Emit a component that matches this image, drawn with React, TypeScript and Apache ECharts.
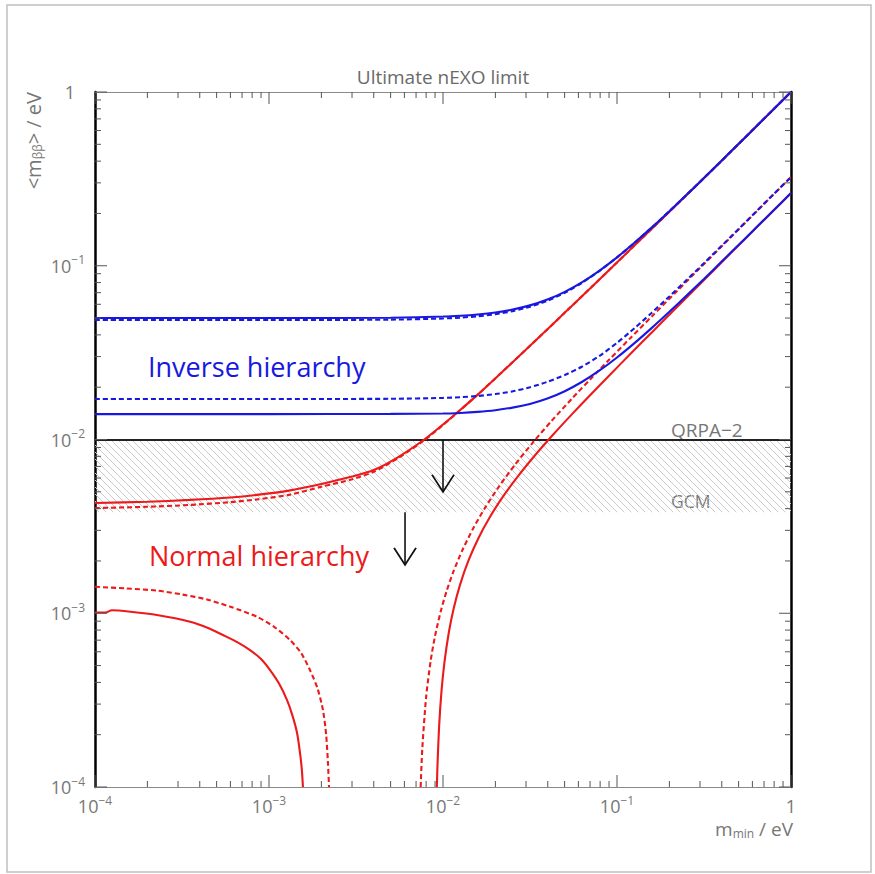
import React, { useEffect, useRef } from 'react';
import * as echarts from 'echarts';

// ---- axis range and tick labels (exponents of 10) ----
const axisMin = 1e-4;
const axisMax = 1;
const tickExponents = [-4, -3, -2, -1, 0];

// ---- Inverse hierarchy (blue) ----
const ihX = [1e-4, 0.001, 0.005, 0.01, 0.0126, 0.0158, 0.02, 0.0251, 0.0316, 0.0398, 0.0501, 0.0631, 0.0794, 0.1, 0.126, 0.158, 0.2, 0.251, 0.316, 0.398, 0.501, 0.631, 0.794, 1];
const ihMaxSolidY = [0.05, 0.05, 0.05025, 0.05099, 0.05156, 0.05244, 0.05385, 0.05595, 0.05915, 0.06391, 0.07078, 0.08051, 0.09383, 0.1118, 0.1356, 0.1657, 0.2062, 0.2559, 0.3199, 0.4011, 0.5035, 0.633, 0.7956, 1.0];
const ihMaxDashedY = [0.0487, 0.0487, 0.04896, 0.04972, 0.0503, 0.0512, 0.05265, 0.05479, 0.05805, 0.0629, 0.06987, 0.0799, 0.0935, 0.1117, 0.1356, 0.1657, 0.2062, 0.2559, 0.3199, 0.4011, 0.5035, 0.633, 0.7956, 1.0];
const ihMinSolidY = [0.014, 0.014, 0.01404, 0.0141, 0.01422, 0.01442, 0.01475, 0.01526, 0.01603, 0.01722, 0.01897, 0.02149, 0.02496, 0.02963, 0.03585, 0.04375, 0.05433, 0.06731, 0.08398, 0.1053, 0.1319, 0.1658, 0.2084, 0.262];
const ihMinDashedY = [0.0171, 0.0171, 0.01715, 0.01735, 0.01752, 0.0178, 0.01826, 0.01893, 0.01998, 0.02148, 0.0235, 0.0263, 0.0303, 0.036, 0.0437, 0.0535, 0.0666, 0.0827, 0.1035, 0.1298, 0.1632, 0.2052, 0.258, 0.324];

// ---- Normal hierarchy (red) ----
const nhMaxX = [1e-4, 2e-4, 3.5e-4, 6e-4, 8.5e-4, 0.0013, 0.002, 0.003, 0.004, 0.0055, 0.0077, 0.01, 0.012, 0.016, 0.024, 0.035, 0.05, 0.07, 0.1, 0.141, 0.2, 0.39, 1];
const nhMaxSolidY = [0.00431, 0.00438, 0.00449, 0.00464, 0.0048, 0.00508, 0.00555, 0.00612, 0.00667, 0.0079, 0.0099, 0.0122, 0.0142, 0.0183, 0.0267, 0.0381, 0.0536, 0.074, 0.1045, 0.1458, 0.2045, 0.393, 1.0];
const nhMaxDashedY = [0.00403, 0.0041, 0.0042, 0.00436, 0.00452, 0.0048, 0.00535, 0.0059, 0.00652, 0.0078, 0.0098, 0.0121, 0.0142, 0.0183, 0.0267, 0.0381, 0.0536, 0.074, 0.1045, 0.1458, 0.2045, 0.393, 1.0];

const nhMinLeftSolidX = [1e-4, 1.15e-4, 1.25e-4, 1.6e-4, 2.27e-4, 3.52e-4, 4.5e-4, 5.44e-4, 6.6e-4, 7.78e-4, 9e-4, 1.014e-3, 1.14e-3, 1.268e-3, 1.36e-3, 1.449e-3, 1.51e-3, 1.545e-3, 1.567e-3];
const nhMinLeftSolidY = [0.00101, 0.00101, 0.00104, 0.00102, 0.000977, 0.000894, 0.00082, 0.000749, 0.00068, 0.000614, 0.000545, 0.000471, 0.000395, 0.000317, 0.00026, 0.000205, 0.000155, 0.000125, 0.0001];
const nhMinLeftDashedX = [1e-4, 1.5e-4, 2.27e-4, 3.2e-4, 4.4e-4, 6e-4, 8.53e-4, 1.08e-3, 1.321e-3, 1.53e-3, 1.72e-3, 1.9e-3, 2.043e-3, 2.13e-3, 2.18e-3, 2.213e-3];
const nhMinLeftDashedY = [0.00142, 0.00139, 0.00135, 0.00128, 0.0012, 0.00109, 0.000955, 0.00083, 0.000701, 0.00059, 0.000471, 0.00037, 0.000277, 0.0002, 0.00014, 0.0001];

const nhMinRightDashedX = [0.00744, 0.0076, 0.008, 0.0085, 0.009, 0.0097, 0.0105, 0.0115, 0.013, 0.015, 0.0175, 0.021, 0.026, 0.033, 0.042, 0.055, 0.07, 0.09, 0.12, 0.16, 0.22, 0.3, 0.45, 0.65, 1];
const nhMinRightDashedY = [0.0001, 0.000165, 0.00033, 0.000536, 0.00074, 0.001024, 0.001346, 0.001745, 0.002337, 0.003113, 0.004066, 0.00537, 0.007187, 0.009661, 0.012765, 0.017157, 0.02215, 0.028743, 0.038565, 0.051603, 0.071107, 0.097073, 0.145715, 0.210541, 0.324];
const nhMinRightSolidX = [0.00922, 0.0093, 0.0095, 0.0098, 0.0102, 0.0108, 0.0115, 0.0125, 0.014, 0.016, 0.0185, 0.022, 0.027, 0.034, 0.043, 0.055, 0.07, 0.09, 0.12, 0.16, 0.22, 0.3, 0.45, 0.65, 1];
const nhMinRightSolidY = [0.0001, 0.000135, 0.000224, 0.000355, 0.000525, 0.000775, 0.001058, 0.001448, 0.002006, 0.002712, 0.003546, 0.004655, 0.006159, 0.008175, 0.010683, 0.013952, 0.01798, 0.023299, 0.031229, 0.041762, 0.057525, 0.078516, 0.117844, 0.170261, 0.262];

// ---- limits band & arrows ----
const qrpaLimit = 0.01;
const gcmLimit = 0.00381;
const arrowQrpaX = 0.01;
const arrowQrpaY = [0.01, 0.005];
const arrowGcmX = 0.00605;
const arrowGcmY = [0.00381, 0.0019];

const FONT = '"Open Sans", Lato, sans-serif';
const BLUE = '#1818e0';
const RED = '#ec1a1a';
const GRAY = '#777777';

const zip = (xs: number[], ys: number[]) => xs.map((x, i) => [x, ys[i]]);

const majorVals = tickExponents.map((e) => Math.pow(10, e));
const minorVals: number[] = [];
tickExponents.slice(0, -1).forEach((e) => {
  for (let k = 2; k <= 9; k++) minorVals.push(Number((k * Math.pow(10, e)).toPrecision(3)));
});
const tickData = [...majorVals.map((v) => [v, 1]), ...minorVals.map((v) => [v, 0])];

const labelRich = {
  b: { fontSize: 18, lineHeight: 18, color: GRAY, fontFamily: FONT, verticalAlign: 'bottom' },
  s: { fontSize: 12, lineHeight: 12, color: GRAY, fontFamily: FONT, padding: [0, 0, 9, 0], verticalAlign: 'bottom' },
  one: { fontSize: 18, lineHeight: 18, color: GRAY, fontFamily: FONT, verticalAlign: 'bottom' },
  oneY: { fontSize: 18, lineHeight: 18, color: GRAY, fontFamily: FONT, padding: [0, 10, 0, 0], verticalAlign: 'bottom' },
};

const fmt = (isY: boolean) => (v: number) => {
  const e = Math.round(Math.log10(v));
  if (e === 0) return isY ? '{oneY|1}' : '{one|1}';
  return `{b|10}{s|\u2212${-e}}`;
};

function axis(kind: 'x' | 'y', pos: string, label: boolean, lineColor: string, lineWidth: number) {
  return {
    type: 'log',
    logBase: 10,
    min: axisMin,
    max: axisMax,
    position: pos,
    gridIndex: 0,
    axisLine: { show: true, onZero: false, lineStyle: { color: lineColor, width: lineWidth } },
    axisTick: { show: false },
    axisLabel: label
      ? { show: true, margin: 10, customValues: majorVals, formatter: fmt(kind === 'y'), rich: labelRich }
      : { show: false },
    splitLine: { show: false },
    minorTick: { show: false },
    minorSplitLine: { show: false },
  };
}

function tickSeries(kind: 'x' | 'y') {
  return {
    type: 'custom',
    xAxisIndex: 0,
    yAxisIndex: 0,
    silent: true,
    clip: false,
    z: 6,
    data: tickData,
    encode: kind === 'x' ? { x: 0 } : { y: 0 },
    renderItem: (params: any, api: any) => {
      const v = api.value(0);
      const len = api.value(1) ? 12 : 6;
      const style = { stroke: '#555', lineWidth: 1 };
      if (kind === 'x') {
        const a = api.coord([v, axisMin]);
        const b = api.coord([v, axisMax]);
        return {
          type: 'group',
          children: [
            { type: 'line', shape: { x1: a[0], y1: a[1], x2: a[0], y2: a[1] - len }, style },
            { type: 'line', shape: { x1: b[0], y1: b[1], x2: b[0], y2: b[1] + len }, style },
          ],
        };
      }
      const a = api.coord([axisMin, v]);
      const b = api.coord([axisMax, v]);
      return {
        type: 'group',
        children: [
          { type: 'line', shape: { x1: a[0], y1: a[1], x2: a[0] + len, y2: a[1] }, style },
          { type: 'line', shape: { x1: b[0], y1: b[1], x2: b[0] - len, y2: b[1] }, style },
        ],
      };
    },
  };
}

function lineSeries(name: string, data: number[][], color: string, dashed: boolean, extra: any = {}) {
  return {
    name,
    type: 'line',
    data,
    xAxisIndex: 0,
    yAxisIndex: 0,
    symbol: 'none',
    showSymbol: false,
    smooth: 0.25,
    clip: true,
    z: 3,
    lineStyle: { color, width: 2.1, type: dashed ? [5, 3] : 'solid' },
    itemStyle: { color },
    ...extra,
  };
}

function arrowSeries(name: string, x: number, ys: number[]) {
  return {
    name,
    type: 'line',
    xAxisIndex: 0,
    yAxisIndex: 0,
    symbol: 'none',
    showSymbol: true,
    z: 4,
    lineStyle: { color: '#111', width: 1.6 },
    itemStyle: { color: '#111' },
    data: [
      { value: [x, ys[0]], symbol: 'none' },
      {
        value: [x, ys[1]],
        symbol: 'path://M0,0L10,16L20,0',
        symbolSize: [22, 17],
        symbolOffset: [0, -8.5],
        itemStyle: { color: 'rgba(0,0,0,0)', borderColor: '#111', borderWidth: 1.6 },
      },
    ],
  };
}

export default function App() {
  const ref = useRef<HTMLDivElement>(null);
  useEffect(() => {
    document.body.style.margin = '0';
    const el = ref.current!;
    const chart = echarts.init(el, null, { renderer: 'svg' });

    const hatch = document.createElement('canvas');
    hatch.width = 7;
    hatch.height = 7;
    const ctx = hatch.getContext('2d')!;
    ctx.strokeStyle = '#cacaca';
    ctx.lineWidth = 1;
    ctx.beginPath();
    ctx.moveTo(-1, -1);
    ctx.lineTo(8, 8);
    ctx.moveTo(-1, 6);
    ctx.lineTo(1, 8);
    ctx.moveTo(6, -1);
    ctx.lineTo(8, 1);
    ctx.stroke();

    const subRich = { sub: { fontSize: 12, fontFamily: FONT, fill: GRAY, padding: [9, 0, 0, 0], verticalAlign: 'top' } };

    const option: any = {
      animation: false,
      backgroundColor: '#ffffff',
      grid: { left: 95, top: 92, width: 696, height: 695, containLabel: false },
      xAxis: [axis('x', 'bottom', true, '#8a8a8a', 1), axis('x', 'top', false, '#8a8a8a', 1)],
      yAxis: [axis('y', 'left', true, '#000', 2.5), axis('y', 'right', false, '#000', 2.5)],
      series: [
        lineSeries('NH max', zip(nhMaxX, nhMaxSolidY), RED, false, {
          markArea: {
            silent: true,
            z: 1,
            itemStyle: { color: { image: hatch, repeat: 'repeat' } },
            data: [[{ yAxis: qrpaLimit }, { yAxis: gcmLimit }]],
          },
          markLine: {
            silent: true,
            symbol: 'none',
            z: 2,
            label: { show: false },
            lineStyle: { color: '#222', width: 2, type: 'solid' },
            data: [{ yAxis: qrpaLimit }, { yAxis: gcmLimit }],
          },
        }),
        lineSeries('NH max dashed', zip(nhMaxX, nhMaxDashedY), RED, true),
        lineSeries('NH min left', zip(nhMinLeftSolidX, nhMinLeftSolidY), RED, false),
        lineSeries('NH min left dashed', zip(nhMinLeftDashedX, nhMinLeftDashedY), RED, true),
        lineSeries('NH min right dashed', zip(nhMinRightDashedX, nhMinRightDashedY), RED, true),
        lineSeries('NH min right', zip(nhMinRightSolidX, nhMinRightSolidY), RED, false),
        lineSeries('IH max', zip(ihX, ihMaxSolidY), BLUE, false),
        lineSeries('IH max dashed', zip(ihX, ihMaxDashedY), BLUE, true),
        lineSeries('IH min', zip(ihX, ihMinSolidY), BLUE, false),
        lineSeries('IH min dashed', zip(ihX, ihMinDashedY), BLUE, true),
        arrowSeries('QRPA arrow', arrowQrpaX, arrowQrpaY),
        arrowSeries('GCM arrow', arrowGcmX, arrowGcmY),
        tickSeries('x'),
        tickSeries('y'),
      ],
      graphic: [
        {
          type: 'rect',
          shape: { x: 7, y: 5, width: 864, height: 867 },
          style: { fill: 'none', stroke: '#c0c0c0', lineWidth: 1.5 },
          silent: true,
          z: -1,
        },
        {
          type: 'text',
          x: 443,
          y: 77,
          style: { text: 'Ultimate nEXO limit', fontSize: 19, fontFamily: FONT, fill: '#6a6a6a', align: 'center', verticalAlign: 'middle' },
        },
        {
          type: 'text',
          x: 33,
          y: 92,
          rotation: Math.PI / 2,
          style: {
            text: '<m{sub|\u03b2\u03b2}> / eV',
            fontSize: 20,
            fontFamily: FONT,
            fill: GRAY,
            align: 'right',
            verticalAlign: 'middle',
            rich: subRich,
          },
        },
        {
          type: 'text',
          x: 793,
          y: 829,
          style: {
            text: 'm{sub|min} / eV',
            fontSize: 19,
            fontFamily: FONT,
            fill: GRAY,
            align: 'right',
            verticalAlign: 'middle',
            rich: subRich,
          },
        },
        {
          type: 'text',
          x: 148,
          y: 366,
          style: { text: 'Inverse hierarchy', fontSize: 27, fontFamily: FONT, fill: BLUE, align: 'left', verticalAlign: 'middle' },
        },
        {
          type: 'text',
          x: 149,
          y: 555,
          style: { text: 'Normal hierarchy', fontSize: 27, fontFamily: FONT, fill: RED, align: 'left', verticalAlign: 'middle' },
        },
        {
          type: 'text',
          x: 671,
          y: 430,
          style: { text: 'QRPA\u22122', fontSize: 19, fontFamily: FONT, fill: GRAY, align: 'left', verticalAlign: 'middle' },
        },
        {
          type: 'text',
          x: 671,
          y: 501,
          style: { text: 'GCM', fontSize: 17.5, fontFamily: FONT, fill: GRAY, align: 'left', verticalAlign: 'middle' },
        },
      ],
    };
    chart.setOption(option);
    return () => chart.dispose();
  }, []);
  return <div ref={ref} style={{ width: 875, height: 874 }} />;
}
